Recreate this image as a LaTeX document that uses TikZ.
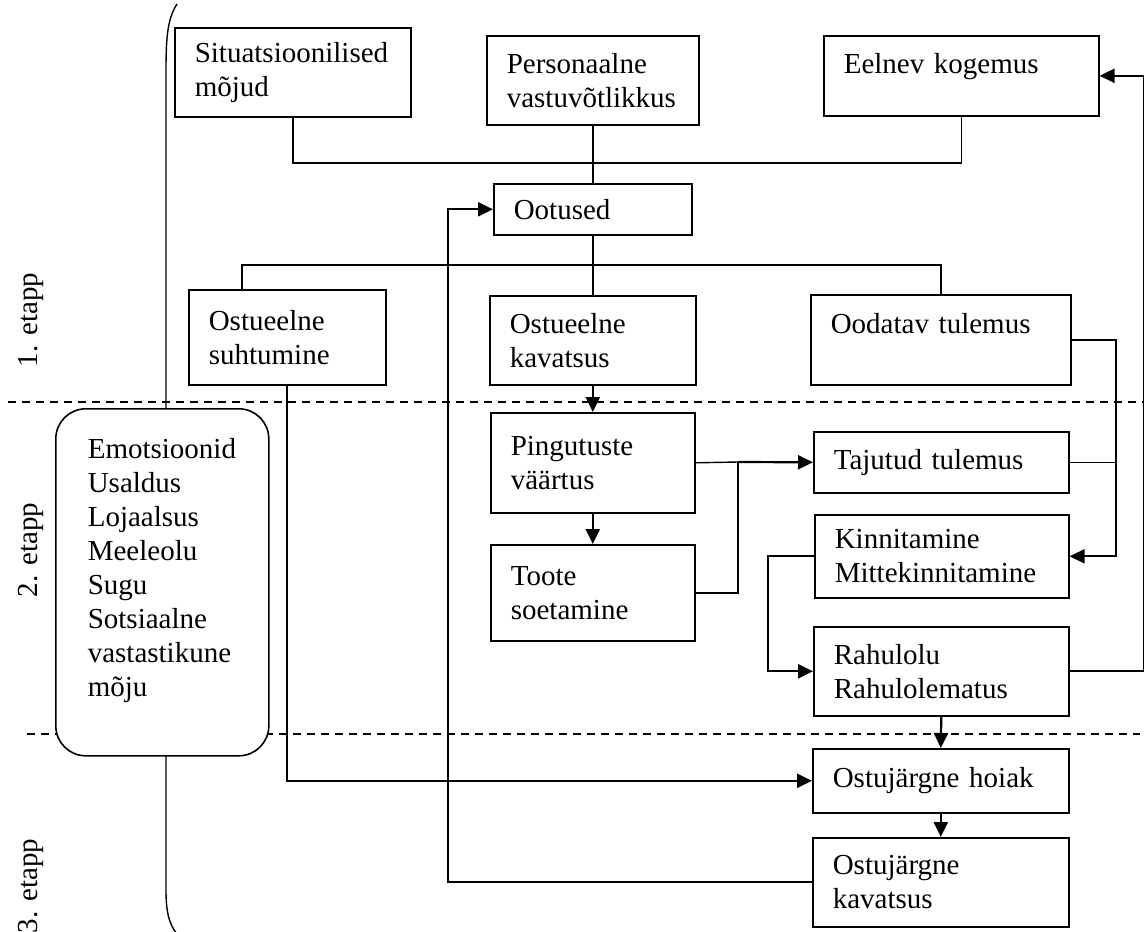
\documentclass[tikz,border=0pt]{standalone}
\usepackage{fontspec}
\setmainfont{Liberation Serif}
\usetikzlibrary{arrows.meta}
\hyphenpenalty=10000

\begin{document}
\begin{tikzpicture}[
  x=1pt, y=-1pt,
  box/.style={rectangle, draw, line width=1.6pt, anchor=north west, align=left, inner xsep=20pt, inner ysep=0pt, font=\fontsize{29}{34}\selectfont},
  stage/.style={rotate=90, font=\fontsize{29}{34}\selectfont},
  link/.style={line width=1.4pt},
  arrow/.style={-{Triangle[length=15pt,width=14pt]}, line width=2.2pt}
]
  \useasboundingbox (0,0) rectangle (1144,932);

  % Bracket and stage borders
  \draw[link] (177,4) .. controls (168,18) and (166,35) .. (166,70) -- (166,890) .. controls (166,912) and (169,924) .. (177,934);
  \draw[link, dashed, dash pattern=on 8pt off 6pt] (8,402) -- (1144,402);
  \draw[link, dashed, dash pattern=on 8pt off 6pt] (27,734) -- (1140,734);

  \node[stage] (stage1) at (31,320) {1. etapp};
  \node[stage] (stage2) at (31,550) {2. etapp};
  \node[stage] (stage3) at (31,886) {3. etapp};

  % Nodes
  \node[box, minimum width=236, minimum height=89, text width=196] (sit) at (174,27) {Situatsioonilised\\mõjud};
  \node[box, minimum width=212, minimum height=89, text width=172] (pers) at (486,35) {Personaalne\\vastuvõtlikkus};
  \node[box, minimum width=275, minimum height=80, text width=235, text height=20pt, text depth=24pt] (eel) at (823,35) {Eelnev kogemus};
  \node[box, minimum width=198, minimum height=51, text width=158] (oot) at (493,183) {Ootused};
  \node[box, minimum width=197, minimum height=95, text width=157] (osu) at (188,289) {Ostueelne\\suhtumine};
  \node[box, minimum width=206, minimum height=89, text width=166] (oka) at (489,295) {Ostueelne\\kavatsus};
  \node[box, minimum width=260, minimum height=90, text width=220, text height=20pt, text depth=32pt] (ood) at (810,294) {Oodatav tulemus};
  \node[box, minimum width=204, minimum height=100, text width=164] (pin) at (490,412) {Pingutuste\\väärtus};
  \node[box, minimum width=204, minimum height=96, text width=164] (too) at (490,544) {Toote\\soetamine};
  \node[box, minimum width=255, minimum height=61, text width=215] (taj) at (813,431) {Tajutud tulemus};
  \node[box, minimum width=254, minimum height=83, text width=214] (kin) at (814,514) {Kinnitamine\\Mittekinnitamine};
  \node[box, minimum width=255, minimum height=89, text width=215] (rah) at (813,626) {Rahulolu\\Rahulolematus};
  \node[box, minimum width=256, minimum height=64, text width=216] (oho) at (812,748) {Ostujärgne hoiak};
  \node[box, minimum width=256, minimum height=89, text width=216] (oko) at (812,837) {Ostujärgne\\kavatsus};
  \node[box, rounded corners=30pt, fill=white, inner xsep=32pt, minimum width=213, minimum height=347, text width=149, text height=20pt, text depth=267pt] (emo) at (55,408) {Emotsioonid\\Usaldus\\Lojaalsus\\Meeleolu\\Sugu\\Sotsiaalne\\vastastikune\\mõju};

  \coordinate (top) at (592,163);
  \coordinate (mid) at (592,265);
  \coordinate (join) at (738,462);

  % Connectors
  \draw[link] (sit.south) |- (top) -| (eel.south);
  \draw[link] (pers.south) -- (oot.north);
  \draw[link] (oot.south) -- (oka.north);
  \draw[link] ([xshift=54pt]osu.north west) |- (mid) -| (ood.north);
  \draw[arrow] (oka.south) -- (pin.north);
  \draw[arrow] (pin.south) -- (too.north);
  \draw[link] (pin.east) -- (join);
  \draw[link] (too.east) -| (join);
  \draw[arrow] (join) -- (taj.west);
  \draw[link] (taj.east) -- ++(46,0);
  \draw[arrow] (ood.east) -- ++(44,0) |- (kin.east);
  \draw[arrow] (kin.west) -- ++(-46,0) |- (rah.west);
  \draw[arrow] (rah.east) -- ++(74,0) |- (eel.east);
  \draw[arrow] (rah.south) -- (oho.north);
  \draw[arrow] (oho.south) -- (oko.north);
  \draw[arrow] (osu.south) |- (oho.west);
  \draw[arrow] (oko.west) -- ++(-364,0) |- (oot.west);
\end{tikzpicture}
\end{document}
